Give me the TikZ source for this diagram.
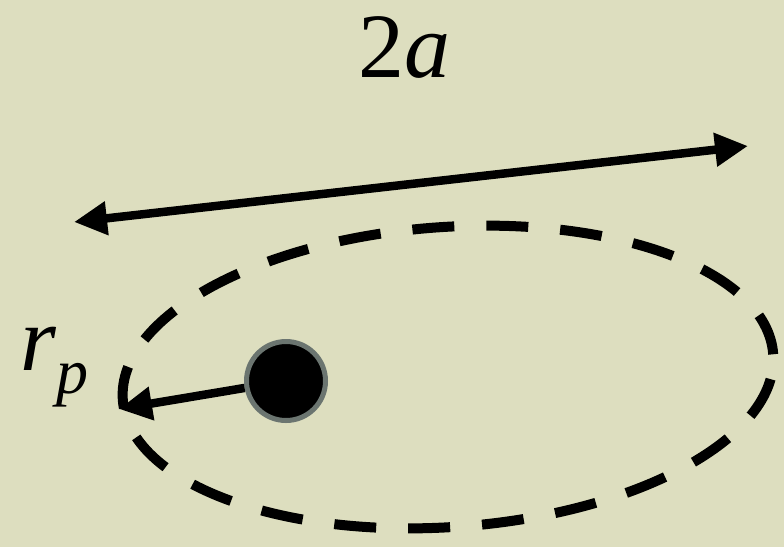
\documentclass[tikz,border=0pt]{standalone}
\usepackage{fontspec}
\setmainfont{Liberation Serif}
\usepackage{tikz}
\usetikzlibrary{arrows.meta,positioning}
\definecolor{bgcol}{RGB}{221,222,191}
\definecolor{rimgray}{RGB}{107,117,112}
\begin{document}
\begin{tikzpicture}[
    x=1pt, y=-1pt,
    every node/.style={inner sep=0pt},
    axisarrow/.style={
        line width=8.5pt,
        {Triangle[length=33pt,width=32pt]}-{Triangle[length=33pt,width=32pt]}
    },
    radiusarrow/.style={
        line width=8.5pt,
        -{Triangle[length=33pt,width=32pt]}
    },
    orbit/.style={
        line width=10pt,
        dash pattern=on 42pt off 32pt
    },
    star/.style={
        circle,
        fill=black,
        draw=rimgray,
        line width=5pt,
        minimum size=79pt
    },
    biglabel/.style={font=\fontsize{92}{92}\selectfont}
]
\useasboundingbox (0,0) rectangle (784,547);
\fill[bgcol] (0,0) rectangle (784,547);

% orbit
\draw[orbit, rotate around={4:(448,377)}] (448,377) ellipse [x radius=326pt, y radius=150pt];

% major axis
\coordinate (majleft) at (74,222);
\coordinate (majright) at (748,146);
\draw[axisarrow] (majleft) -- (majright);
\node[biglabel, anchor=base] (twoa) at (404,77) {2\textit{a}};

% star and periapsis
\node[star] (sun) at (286,381) {};
\coordinate (peri) at (119,409);
\draw[radiusarrow] (sun) -- (peri);
\node[biglabel, anchor=base west] (rp) at (20,370) {\textit{r}\raisebox{-23pt}{\fontsize{64}{64}\selectfont\textit{p}}};
\end{tikzpicture}
\end{document}
